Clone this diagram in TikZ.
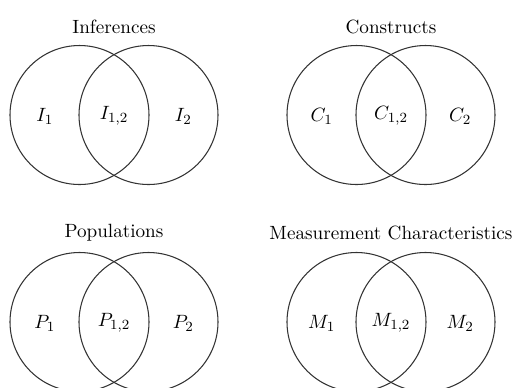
\documentclass[tikz,border=0pt]{standalone}
\usepackage{amsmath}
\usetikzlibrary{positioning, math}
\tikzset{
  venn/.style={draw=black!80, line width=0.6pt},
  ttl/.style={inner sep=1pt, anchor=center, font=\fontsize{10.9}{13}\selectfont},
  lbl/.style={inner sep=1pt, anchor=center, font=\fontsize{10.9}{13}\selectfont}
}

\begin{document}
\begin{tikzpicture}[x=0.02cm, y=-0.02cm]

\tikzmath{
\R = 69.5; % radius of one set
\d = 69; % distance between centres
}

\useasboundingbox (0,0) rectangle (512,387);
\clip (0,0) rectangle (512,387);

%four diagrams: centre of left set, title, letter
\foreach \cx/\cy/\ty/\ttext/\ltr in {
  79.5/115/27/Inferences/I,
  356.5/115/27/Constructs/C,
  79.5/322/233/Populations/P,
  356.5/322/233/Measurement Characteristics/M}{
  \coordinate (c1\ltr) at (\cx,\cy);
  \coordinate (c2\ltr) at (\cx+\d,\cy);
  \draw[venn] (c1\ltr) circle (\R);
  \draw[venn] (c2\ltr) circle (\R);
  \node[ttl] (t\ltr) at (\cx+0.5*\d,\ty) {\ttext};
  \node[lbl] (a\ltr) at (\cx-0.5*\R,\cy+1) {$\ltr_1$};
  \node[lbl] (m\ltr) at (\cx+0.5*\d,\cy+1) {$\ltr_{1,2}$};
  \node[lbl] (b\ltr) at (\cx+\d+0.5*\R,\cy+1) {$\ltr_2$};
}

\end{tikzpicture}
\end{document}
